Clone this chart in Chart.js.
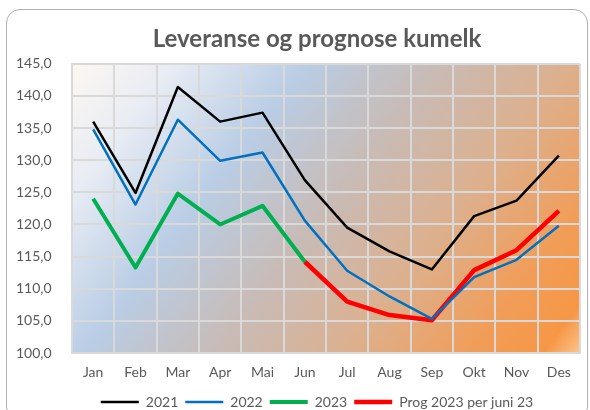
<!DOCTYPE html>
<html>
<head>
<meta charset="utf-8">
<script src="https://cdn.jsdelivr.net/npm/chart.js@4/dist/chart.umd.min.js"></script>
<style>
	html, body { margin: 0; padding: 0; background: #fff; }
	#wrap { position: relative; width: 590px; height: 410px; overflow: hidden; }
	#frame { position: absolute; left: 6px; top: 9px; width: 580px; height: 410px; border: 1.5px solid #b0b0b0; border-radius: 14px; }
	#c { position: absolute; left: 0; top: 0; }
</style>
</head>
<body>
<div id="wrap">
	<div id="frame"></div>
	<canvas id="c" width="590" height="410"></canvas>
</div>
<script>
var months = ['Jan', 'Feb', 'Mar', 'Apr', 'Mai', 'Jun', 'Jul', 'Aug', 'Sep', 'Okt', 'Nov', 'Des'];
var y2021 = [136.0, 124.9, 141.4, 136.0, 137.4, 126.9, 119.5, 115.8, 113.0, 121.3, 123.7, 130.7];
var y2022 = [134.8, 123.1, 136.3, 129.9, 131.2, 120.6, 112.8, 108.8, 105.3, 111.8, 114.5, 119.8];
var y2023 = [124.0, 113.3, 124.8, 120.0, 122.9, 114.2, null, null, null, null, null, null];
var prog2023 = [null, null, null, null, null, 114.2, 108.0, 105.9, 105.1, 112.9, 116.0, 122.1];

var textColor = '#595959';
var fontFamily = 'Lato, "Open Sans", sans-serif';

// gradient behind the plot area
var plotBg = {
	id: 'plotBg',
	beforeDraw: function(chart) {
		var a = chart.chartArea, ctx = chart.ctx;
		var w = a.right - a.left, h = a.bottom - a.top;
		var len = w * 0.793 + h * 0.608;
		var g = ctx.createLinearGradient(a.left, a.top, a.left + 0.793 * len, a.top + 0.608 * len);
		g.addColorStop(0, '#fdf7f1');
		g.addColorStop(0.14, '#e8ecf4');
		g.addColorStop(0.32, '#b9cde5');
		g.addColorStop(0.5, '#c8bbb6');
		g.addColorStop(0.68, '#dcb08e');
		g.addColorStop(0.85, '#f19d58');
		g.addColorStop(0.95, '#f69745');
		g.addColorStop(1, '#fcc38c');
		ctx.save();
		ctx.fillStyle = g;
		ctx.fillRect(a.left, a.top, w, h);
		ctx.restore();
	}
};

var chart = new Chart(document.getElementById('c'), {
	type: 'line',
	data: {
		labels: months,
		datasets: [
			{ label: '2021', data: y2021, borderColor: '#000000', backgroundColor: '#000000', borderWidth: 2.5 },
			{ label: '2022', data: y2022, borderColor: '#0070c0', backgroundColor: '#0070c0', borderWidth: 2.5 },
			{ label: '2023', data: y2023, borderColor: '#00b050', backgroundColor: '#00b050', borderWidth: 4 },
			{ label: 'Prog 2023 per juni 23', data: prog2023, borderColor: '#ff0000', backgroundColor: '#ff0000', borderWidth: 4.5 }
		]
	},
	options: {
		responsive: false,
		animation: false,
		spanGaps: false,
		elements: {
			point: { radius: 0, hoverRadius: 0 },
			line: { tension: 0, borderCapStyle: 'butt', borderJoinStyle: 'round' }
		},
		layout: { padding: { left: 54, right: 10, top: 0, bottom: -9 } },
		plugins: {
			title: {
				display: true,
				text: 'Leveranse og prognose kumelk',
				color: textColor,
				font: { family: fontFamily, size: 24, weight: 'bold' },
				padding: { top: 25, bottom: 10 }
			},
			legend: {
				position: 'bottom',
				labels: {
					color: textColor,
					font: { family: fontFamily, size: 14 },
					usePointStyle: true,
					pointStyle: 'line',
					pointStyleWidth: 38,
					boxHeight: 14,
					padding: 7
				}
			},
			tooltip: { enabled: false }
		},
		scales: {
			x: {
				offset: true,
				afterFit: function(scale) { scale.height = 35; },
				grid: { offset: true, color: '#d9d9d9', lineWidth: 2, drawTicks: false },
				border: { color: '#d9d9d9', width: 2 },
				ticks: { color: textColor, font: { family: fontFamily, size: 14 }, padding: 11 }
			},
			y: {
				min: 100,
				max: 145,
				afterFit: function(scale) { scale.width = 18; },
				grid: { color: '#d9d9d9', lineWidth: 2, drawTicks: false },
				border: { color: '#d9d9d9', width: 2 },
				ticks: {
					stepSize: 5,
					mirror: true,
					padding: -56,
					color: textColor,
					font: { family: fontFamily, size: 14 },
					callback: function(v) { return v.toFixed(1).replace('.', ','); }
				}
			}
		}
	},
	plugins: [plotBg]
});
</script>
</body>
</html>
